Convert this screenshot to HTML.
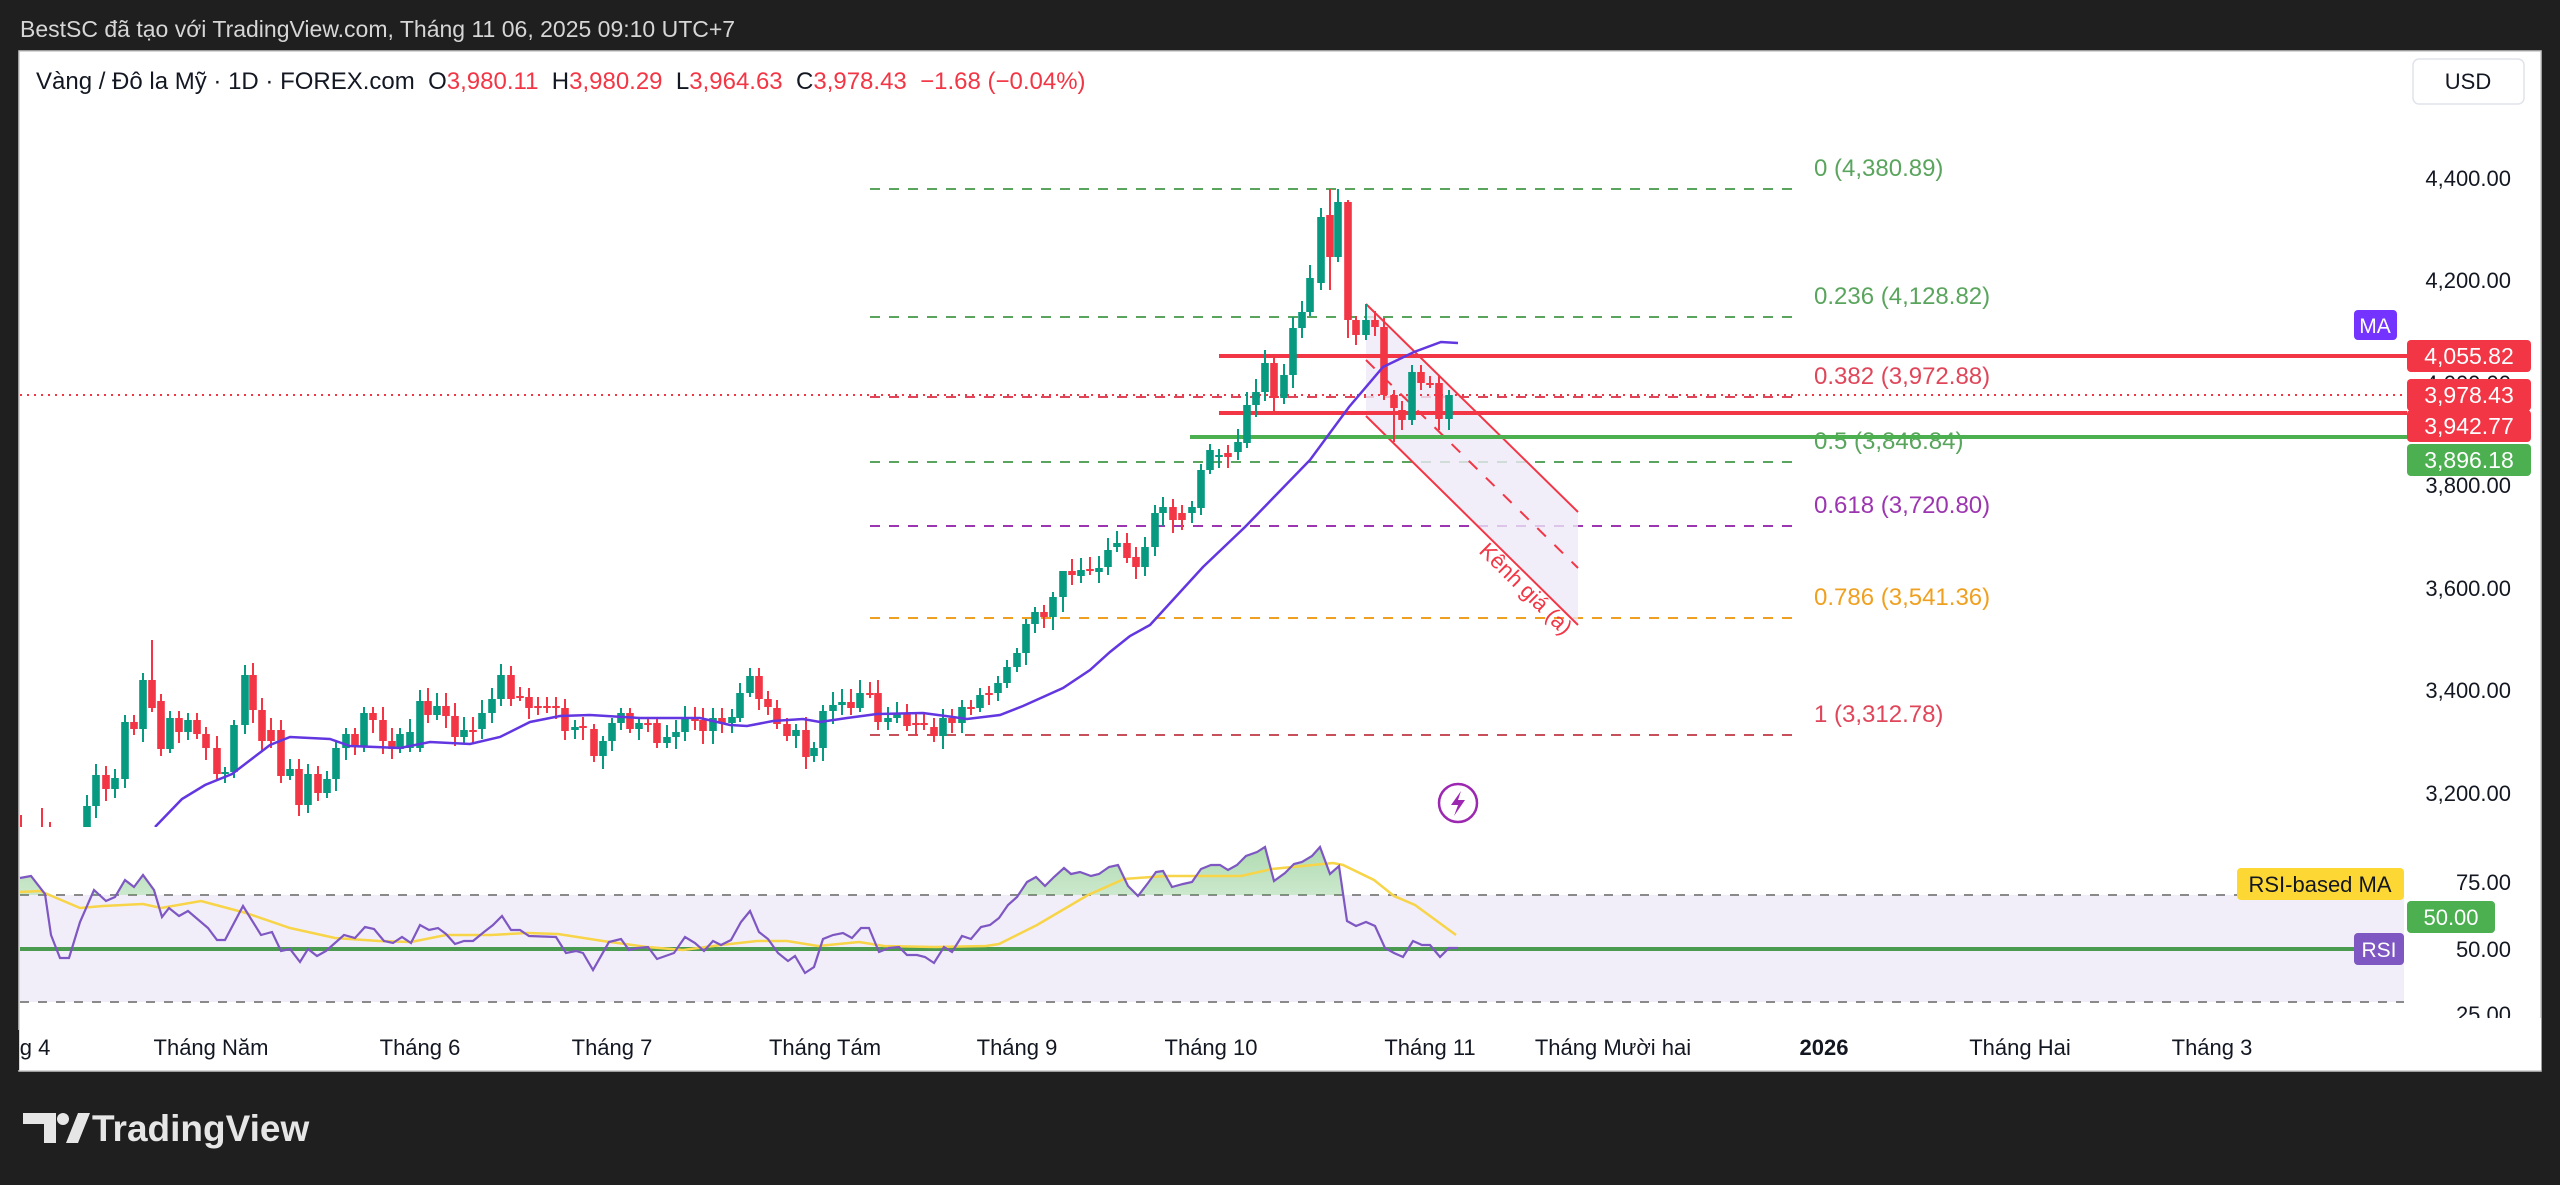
<!DOCTYPE html>
<html><head><meta charset="utf-8"><style>
html,body{margin:0;padding:0;background:#1f1f1f;width:2560px;height:1185px;overflow:hidden}
svg{display:block}
text{font-family:"Liberation Sans",sans-serif}
</style></head><body>
<svg id="s" width="2560" height="1185" viewBox="0 0 2560 1185" xmlns="http://www.w3.org/2000/svg">
<defs>
<linearGradient id="gg" x1="0" y1="0" x2="0" y2="1"><stop offset="0" stop-color="#4caf50" stop-opacity="0.45"/><stop offset="1" stop-color="#4caf50" stop-opacity="0.02"/></linearGradient>
<clipPath id="pp"><rect x="20" y="51" width="2387" height="776"/></clipPath>
<clipPath id="above70"><rect x="20" y="820" width="2387" height="75"/></clipPath>
</defs>
<rect x="0" y="0" width="2560" height="1185" fill="#1f1f1f"/>
<text x="20" y="37" font-size="23" fill="#d6d6d6">BestSC đã tạo với TradingView.com, Tháng 11 06, 2025 09:10 UTC+7</text>
<rect x="19" y="51" width="2522" height="1020" fill="#ffffff" stroke="#c8c8c8" stroke-width="1.5"/>
<g id="g"></g>
<text x="36" y="89" font-size="24" fill="#131722" xml:space="preserve">Vàng / Đô la Mỹ · 1D · FOREX.com  <tspan>O</tspan><tspan fill="#f23645">3,980.11</tspan>  <tspan>H</tspan><tspan fill="#f23645">3,980.29</tspan>  <tspan>L</tspan><tspan fill="#f23645">3,964.63</tspan>  <tspan>C</tspan><tspan fill="#f23645">3,978.43  −1.68 (−0.04%)</tspan></text>
<rect x="2413" y="59" width="111" height="45" rx="6" fill="#fff" stroke="#e0e3eb" stroke-width="1.5"/>
<text x="2468" y="89" font-size="22" fill="#131722" text-anchor="middle">USD</text>
<g fill="#e6e6e6">
<path d="M23 1113 H56 V1143 H44 V1124 H23 Z"/>
<circle cx="63" cy="1119" r="6"/>
<path d="M66 1143 L78 1113 H90 L78 1143 Z"/>
</g>
<text x="92" y="1141" font-size="37" font-weight="bold" fill="#e6e6e6">TradingView</text>
</svg>
<script>
const S='http://www.w3.org/2000/svg';
const g=document.getElementById('g');
function el(t,a,p){const e=document.createElementNS(S,t);for(const k in a)e.setAttribute(k,a[k]);(p||g).appendChild(e);return e;}
function tx(x,y,s,a){const e=el('text',Object.assign({x:x,y:y},a));e.textContent=s;return e;}
el('rect',{x:20,y:895,width:2384,height:107,fill:'#f1eefa'});
el('line',{x1:20,y1:895,x2:2404,y2:895,stroke:'#8a8a8a','stroke-width':2,'stroke-dasharray':'9 9'});
el('line',{x1:20,y1:1002,x2:2404,y2:1002,stroke:'#8a8a8a','stroke-width':2,'stroke-dasharray':'9 9'});
el('line',{x1:20,y1:949,x2:2404,y2:949,stroke:'#4a9a50','stroke-width':4});
const fib=[[189,'#5aa55d','0 (4,380.89)','#5aa55d'],[317,'#5aa55d','0.236 (4,128.82)','#5aa55d'],[397,'#e0465a','0.382 (3,972.88)','#e0465a'],[462,'#5aa55d','0.5 (3,846.84)','#5aa55d'],[526,'#9c35b0','0.618 (3,720.80)','#9c35b0'],[618,'#f0a020','0.786 (3,541.36)','#f0a020'],[735,'#c8505a','1 (3,312.78)','#e0465a']];
fib.forEach(f=>{el('line',{x1:870,y1:f[0],x2:1796,y2:f[0],stroke:f[1],'stroke-width':2,'stroke-dasharray':'10 9'});tx(1814,f[0]-13,f[2],{'font-size':24,fill:f[3]});});
el('polygon',{points:'1366,304 1578,512 1578,625 1366,416',fill:'#eeeaf8',opacity:0.8});
el('line',{x1:1366,y1:304,x2:1578,y2:512,stroke:'#f23645','stroke-width':2});
el('line',{x1:1366,y1:416,x2:1578,y2:625,stroke:'#f23645','stroke-width':2});
el('line',{x1:1366,y1:360,x2:1578,y2:568,stroke:'#f23645','stroke-width':2,'stroke-dasharray':'12 12'});
tx(0,0,'Kênh giá (a)',{'font-size':22,fill:'#f23645',transform:'translate(1478,552) rotate(44.6)'});
el('line',{x1:20,y1:395,x2:2407,y2:395,stroke:'#f23645','stroke-width':2,'stroke-dasharray':'2 5'});
el('line',{x1:1219,y1:356,x2:2407,y2:356,stroke:'#f23645','stroke-width':4});
el('line',{x1:1219,y1:413,x2:2407,y2:413,stroke:'#f23645','stroke-width':4});
el('line',{x1:1190,y1:437,x2:2407,y2:437,stroke:'#4caf50','stroke-width':4});
const C=[[87,827,806],[96,806,775],[106,775,789],[115,789,778],[125,779,722],[134,722,729],[143,729,680],[152,680,708],[161,701,749],[170,749,718],[179,718,732],[188,732,720],[197,720,734],[206,734,748],[217,748,774],[225,774,772],[234,772,725],[245,725,675],[253,675,710],[262,710,741],[271,730,741],[281,730,776],[290,776,769],[299,769,805],[308,805,774],[318,774,793],[327,793,779],[336,779,748],[346,748,734],[355,734,746],[364,746,713],[373,713,720],[383,720,741],[392,741,749],[400,749,734],[410,748,732],[420,748,701],[428,701,715],[437,715,706],[446,706,716],[455,716,737],[464,737,730],[473,730,731],[482,729,713],[492,713,699],[501,699,675],[511,675,699],[520,696,697],[529,697,708],[538,706,707],[547,706,708],[556,706,707],[565,708,731],[575,730,727],[583,726,727],[594,729,756],[603,756,741],[612,741,723],[621,723,713],[630,713,729],[639,729,723],[648,723,724],[657,723,743],[667,743,737],[676,737,732],[685,732,718],[695,717,721],[703,720,731],[713,731,718],[722,718,723],[732,723,717],[740,718,693],[750,693,676],[759,676,699],[768,699,707],[777,708,724],[787,724,736],[796,736,730],[806,730,757],[814,756,748],[823,748,711],[833,711,705],[842,705,702],[851,702,708],[860,708,693],[870,693,694],[878,693,722],[888,722,718],[897,718,713],[907,713,726],[916,723,724],[924,723,724],[934,727,736],[943,736,718],[952,718,723],[962,723,707],[971,707,708],[980,708,695],[989,693,694],[998,693,683],[1007,683,667],[1017,667,653],[1026,653,624],[1035,624,612],[1044,612,617],[1053,617,597],[1063,597,571],[1072,571,575],[1081,576,570],[1090,569,571],[1099,572,568],[1108,567,550],[1117,547,543],[1127,543,558],[1136,557,567],[1145,567,547],[1155,547,513],[1163,513,507],[1173,507,520],[1182,513,520],[1192,513,507],[1201,508,470],[1210,470,450],[1219,457,455],[1228,453,457],[1238,452,442],[1247,443,405],[1256,405,392],[1265,392,363],[1274,363,398],[1284,398,375],[1293,375,328],[1302,328,312],[1310,312,278],[1321,283,217],[1330,215,257],[1338,257,202],[1348,202,320],[1356,320,335],[1366,335,320],[1375,320,327],[1384,327,395],[1394,395,408],[1402,410,420],[1412,420,372],[1421,372,383],[1430,383,384],[1439,383,419],[1449,419,395]];
const W={152:[640,712],1330:[189,290],1338:[189,262],1348:[200,338],1356:[316,345],1366:[304,340],1394:[390,442],1412:[365,425],1384:[318,400],1274:[355,412],1228:[445,468],1063:[590,612],1044:[605,628]};
const cg=el('g',{'clip-path':'url(#pp)'});
[[21,815],[42,808],[50,822]].forEach(w=>el('line',{x1:w[0],y1:w[1],x2:w[0],y2:830,stroke:'#f23645','stroke-width':2},cg));
C.forEach(c=>{const[x,o,cl]=c;const up=cl<o;const col=up?'#089981':'#f23645';const t=Math.min(o,cl),b=Math.max(o,cl);let hi=t-5-((x*7)%9),lo=b+4+((x*13)%10);if(W[x]){hi=W[x][0];lo=W[x][1];}
el('line',{x1:x,y1:hi,x2:x,y2:lo,stroke:col,'stroke-width':2},cg);el('rect',{x:x-3.8,y:t,width:7.6,height:Math.max(b-t,2),fill:col},cg);});
const MA='155,827 182,799 205,785 232,774 270,745 290,737 330,739 350,746 400,748 430,742 470,744 500,737 530,722 560,716 590,715 640,718 700,718 730,725 747,726 773,721 803,719 820,722 847,718 877,714 923,713 953,717 967,719 1000,715 1023,706 1063,688 1090,670 1110,652 1130,636 1150,625 1203,567 1245,527 1310,460 1349,407 1383,367 1414,352 1441,342 1458,343';
el('polyline',{points:MA,fill:'none',stroke:'#6236e0','stroke-width':2.5},cg);
const R='20,878 31,876 45,894 51,935 60,958 69,958 80,922 94,890 106,901 115,897 125,880 134,887 143,875 154,890 162,917 169,908 179,916 188,911 208,928 217,940 225,940 243,906 261,935 272,932 281,951 290,949 300,962 308,949 317,956 326,951 344,935 355,938 365,927 374,929 384,941 393,943 402,937 411,943 420,925 429,930 438,928 446,934 455,944 464,941 473,941 484,932 493,925 502,916 511,930 520,930 529,936 556,937 566,953 576,951 583,953 593,970 609,942 621,939 629,950 638,948 648,947 657,959 674,953 685,937 695,943 704,951 713,941 721,945 731,940 741,922 750,911 759,932 768,939 778,953 788,961 795,956 805,973 814,967 823,939 833,935 843,933 852,938 861,928 869,928 879,952 889,948 899,947 907,955 917,955 925,957 934,963 944,947 952,952 962,936 971,939 981,927 990,925 999,918 1008,905 1017,897 1027,882 1036,877 1045,886 1054,877 1064,868 1071,874 1080,872 1091,876 1099,874 1109,867 1118,865 1128,886 1138,896 1148,883 1156,872 1163,871 1172,887 1183,884 1192,882 1201,869 1211,865 1220,865 1228,870 1237,865 1246,856 1257,852 1265,847 1274,881 1285,873 1294,864 1302,862 1312,856 1320,847 1330,874 1339,866 1347,921 1356,926 1366,922 1375,926 1385,948 1394,953 1403,957 1413,941 1422,945 1430,945 1440,957 1449,948 1458,948';
el('polygon',{points:'20,895 '+R+' 1458,895',fill:'url(#gg)','clip-path':'url(#above70)'});
const Y='20,892 40,891 80,908 103,906 143,904 161,908 201,901 246,913 290,928 335,938 379,941 411,942 446,935 491,935 527,933 558,934 603,941 647,947 683,950 721,945 757,941 787,941 818,946 859,942 884,946 935,947 986,946 999,944 1037,925 1088,895 1124,879 1165,876 1241,876 1272,869 1333,863 1343,865 1374,880 1394,896 1415,905 1456,935';
el('polyline',{points:Y,fill:'none',stroke:'#f7d448','stroke-width':2.5});
el('polyline',{points:R,fill:'none',stroke:'#7e57c2','stroke-width':2.2});
el('circle',{cx:1458,cy:803,r:19,fill:'#fff',stroke:'#9c27b0','stroke-width':2.5});
el('path',{d:'M1461 791 L1451 805 L1458 805 L1454 816 L1465 800 L1458 800 Z',fill:'#9c27b0'});
[[178,'4,400.00'],[280,'4,200.00'],[383,'4,000.00'],[485,'3,800.00'],[588,'3,600.00'],[690,'3,400.00'],[793,'3,200.00']].forEach(a=>tx(2511,a[0]+8,a[1],{'font-size':22,fill:'#131722','text-anchor':'end'}));
[[882,'75.00']].forEach(a=>tx(2511,a[0]+8,a[1],{'font-size':22,fill:'#131722','text-anchor':'end'}));
function tag(y,bg,s,fg){el('rect',{x:2407,y:y-16,width:124,height:32,rx:4,fill:bg});tx(2469,y+8,s,{'font-size':23,fill:fg||'#fff','text-anchor':'middle'});}
el('rect',{x:2354,y:310,width:43,height:30,rx:4,fill:'#7433ff'});tx(2375,333,'MA',{'font-size':21,fill:'#fff','text-anchor':'middle'});
tag(356,'#f23645','4,055.82');tag(395,'#f23645','3,978.43');tag(426,'#f23645','3,942.77');tag(460,'#4caf50','3,896.18');
el('rect',{x:2237,y:868,width:167,height:32,rx:4,fill:'#fdd835'});tx(2320,892,'RSI-based MA',{'font-size':22,fill:'#131722','text-anchor':'middle'});
el('rect',{x:2407,y:901,width:88,height:32,rx:4,fill:'#4caf50'});tx(2451,925,'50.00',{'font-size':22,fill:'#fff','text-anchor':'middle'});
el('rect',{x:2354,y:933,width:50,height:32,rx:4,fill:'#7e57c2'});tx(2379,957,'RSI',{'font-size':21,fill:'#fff','text-anchor':'middle'});
tx(2511,957,'50.00',{'font-size':22,fill:'#131722','text-anchor':'end'});
el('rect',{x:20,y:1020,width:2521,height:50,fill:'#fff'});
tx(2511,1022,'25.00',{'font-size':22,fill:'#131722','text-anchor':'end'});
el('rect',{x:20,y:1018,width:2521,height:8,fill:'#fff'});
[[10,'Tháng 4'],[211,'Tháng Năm'],[420,'Tháng 6'],[612,'Tháng 7'],[825,'Tháng Tám'],[1017,'Tháng 9'],[1211,'Tháng 10'],[1430,'Tháng 11'],[1613,'Tháng Mười hai'],[2020,'Tháng Hai'],[2212,'Tháng 3']].forEach(a=>tx(a[0],1055,a[1],{'font-size':22,fill:'#131722','text-anchor':'middle'}));
tx(1824,1055,'2026',{'font-size':22,fill:'#131722','text-anchor':'middle','font-weight':'bold'});
el('rect',{x:0,y:1030,width:19,height:40,fill:'#1f1f1f'});
</script>
</body></html>
